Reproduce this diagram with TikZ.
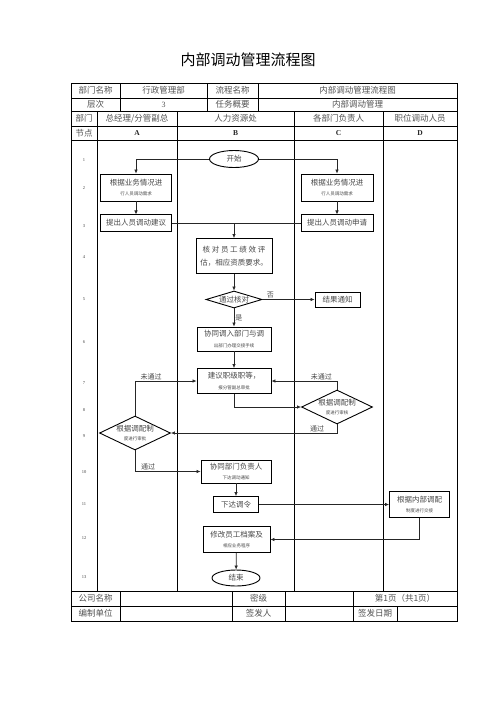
\documentclass[tikz,border=0pt]{standalone}
\usepackage{fontspec}
\setmainfont{Liberation Serif}
\newfontfamily\cjk{Noto Sans CJK SC}
\usetikzlibrary{arrows.meta,positioning,shapes.geometric}
\newcommand{\tinyline}[1]{{\fontsize{4.5}{5.5}\selectfont #1}}
\tikzset{flowbox/.style={draw,line width=0.9pt,align=center,inner sep=1pt,
 font=\cjk\fontsize{7.5}{10.5}\selectfont,text=black!72},
 flowdmd/.style={flowbox,diamond,inner sep=0pt,font=\cjk\fontsize{7.5}{8.5}\selectfont},
 flowend/.style={flowbox,ellipse,inner sep=0pt},
 flowarr/.style={-{Latex[length=4pt,width=3.6pt]},line width=0.7pt,draw=black!85},
 flowlbl/.style={font=\cjk\fontsize{7}{8}\selectfont,text=black!72,inner sep=1pt},
 gridln/.style={line width=0.7pt},
 cell/.style={font=\cjk\fontsize{8.5}{9}\selectfont,text=black!68,inner sep=0pt},
 lane/.style={font=\bfseries\fontsize{7.5}{8}\selectfont,text=black!85,inner sep=0pt},
 rownum/.style={font=\fontsize{4.5}{5}\selectfont,text=black!75,inner sep=0pt}}

\begin{document}
\begin{tikzpicture}[x=1pt,y=-1pt]
\useasboundingbox (0,0) rectangle (496,702);
\node[font=\cjk\fontsize{15}{16}\selectfont] (title) at (248,60) {内部调动管理流程图};

\draw[line width=1pt] (71,83) rectangle (457,621);
\foreach \y in {98,111,126,140,591,606} \draw[gridln] (71,\y) -- (457,\y);
\foreach \x in {120,207,258} \draw[gridln] (\x,83) -- (\x,111);
\foreach \x in {97,177,294,383} \draw[gridln] (\x,111) -- (\x,591);
\foreach \x in {120,232,285,353} \draw[gridln] (\x,591) -- (\x,621);
\draw[gridln] (397,606) -- (397,621);

\node[cell] (deptname) at (95.5,90.5) {部门名称};
\node[cell] (deptval) at (163.5,90.5) {行政管理部};
\node[cell] (procname) at (232.5,90.5) {流程名称};
\node[cell] (procval) at (357.5,90.5) {内部调动管理流程图};
\node[cell] (level) at (95.5,104.5) {层次};
\node[cell,font=\fontsize{8}{9}\selectfont] (levelval) at (163.5,104.5) {3};
\node[cell] (task) at (232.5,104.5) {任务概要};
\node[cell] (taskval) at (357.5,104.5) {内部调动管理};
\node[cell] (dept) at (84,118.5) {部门};
\node[cell] (laneA) at (137,118.5) {总经理/分管副总};
\node[cell] (laneB) at (235.5,118.5) {人力资源处};
\node[cell] (laneC) at (338.5,118.5) {各部门负责人};
\node[cell] (laneD) at (420,118.5) {职位调动人员};
\node[cell] (stepcol) at (84,133) {节点};
\node[lane] (colA) at (137,133) {A};
\node[lane] (colB) at (235.5,133) {B};
\node[lane] (colC) at (338.5,133) {C};
\node[lane] (colD) at (420,133) {D};
\node[cell] (company) at (95.5,598.5) {公司名称};
\node[cell] (secret) at (258.5,598.5) {密级};
\node[cell] (page) at (405,598.5) {第1页（共1页）};
\node[cell] (unit) at (95.5,613.5) {编制单位};
\node[cell] (issuer) at (258.5,613.5) {签发人};
\node[cell] (issuedate) at (375,613.5) {签发日期};

\foreach \i/\y in {1/160,2/188,3/226,4/257,5/299,6/342,7/383,8/410,9/436,10/472,11/504,12/538,13/577}
 \node[rownum] (num\i) at (84,\y) {\i};

\node[flowend,minimum width=49pt,minimum height=17pt] (start) at (234,159) {开始};
\node[flowbox,minimum width=71pt,minimum height=27pt] (needA) at (136,187.5) {根据业务情况进\\\tinyline{行人员调动需求}};
\node[flowbox,minimum width=71pt,minimum height=16.5pt,below=13pt of needA] (suggest) {提出人员调动建议};
\node[flowbox,minimum width=72pt,minimum height=27pt] (needC) at (337,187.5) {根据业务情况进\\\tinyline{行人员调动需求}};
\node[flowbox,minimum width=72pt,minimum height=16.5pt,below=13pt of needC] (apply) {提出人员调动申请};
\node[flowbox,minimum width=76pt,minimum height=35pt,font=\cjk\fontsize{7.5}{13}\selectfont] (review) at (234,256) {核 对 员 工 绩 效 评\\估，相应资质要求。};
\node[flowdmd,aspect=3.3,minimum width=56pt,minimum height=17pt] (check) at (234,299.5) {通过核对};
\node[flowbox,minimum width=45pt,minimum height=15pt] (notify) at (337.5,299.5) {结果通知};
\node[flowbox,minimum width=74pt,minimum height=24pt] (handover) at (234,339) {协同调入部门与调\\\tinyline{出部门办理交接手续}};
\node[flowbox,minimum width=74pt,minimum height=25pt] (grade) at (234,381) {建议职级职等，\\\tinyline{报分管副总审批}};
\node[flowdmd,aspect=2.1,minimum width=71pt,minimum height=34pt] (auditC) at (337,407) {根据调配制\\\tinyline{度进行审核}};
\node[flowdmd,aspect=2.1,minimum width=71pt,minimum height=34pt] (auditA) at (135,433) {根据调配制\\\tinyline{度进行审批}};
\node[flowbox,minimum width=70pt,minimum height=23pt] (inform) at (236,471.5) {协同部门负责人\\\tinyline{下达调动通知}};
\node[flowbox,minimum width=45pt,minimum height=16pt] (order) at (236,504.5) {下达调令};
\node[flowbox,minimum width=60pt,minimum height=26pt] (transfer) at (419.5,504.5) {根据内部调配\\\tinyline{制度进行交接}};
\node[flowbox,minimum width=67pt,minimum height=26pt] (archive) at (236.5,539.5) {修改员工档案及\\\tinyline{相应业务程序}};
\node[flowend,minimum width=48pt,minimum height=16pt] (finish) at (236,578) {结束};

\draw[flowarr] (start) -| (needA);
\draw[flowarr] (start) -| (needC);
\draw[flowarr] (needA) -- (suggest);
\draw[flowarr] (needC) -- (apply);
\draw[flowarr,-] (suggest) -- (apply);
\draw[flowarr] (suggest -| review) -- (review);
\draw[flowarr] (review) -- (check);
\draw[flowarr] (check) -- node[flowlbl,above,pos=0.15]{否} (notify);
\draw[flowarr] (check) -- node[flowlbl,right,pos=0.5]{是} (handover);
\draw[flowarr] (handover) -- (grade);
\draw[flowarr] (grade) |- (auditC);
\draw[flowarr] (auditC) |- node[flowlbl,above,pos=0.62]{未通过} (grade);
\draw[flowarr] (auditA) |- node[flowlbl,above,pos=0.63]{未通过} (grade);
\draw[flowarr] (auditC) |- node[flowlbl,above,pos=0.56]{通过} (auditA);
\draw[flowarr] (auditA) |- node[flowlbl,above,pos=0.6]{通过} (inform);
\draw[flowarr] (inform) -- (order);
\draw[flowarr] (order) -- (transfer);
\draw[flowarr] (transfer) |- (archive);
\draw[flowarr] (archive) -- (finish);
\end{tikzpicture}
\end{document}
